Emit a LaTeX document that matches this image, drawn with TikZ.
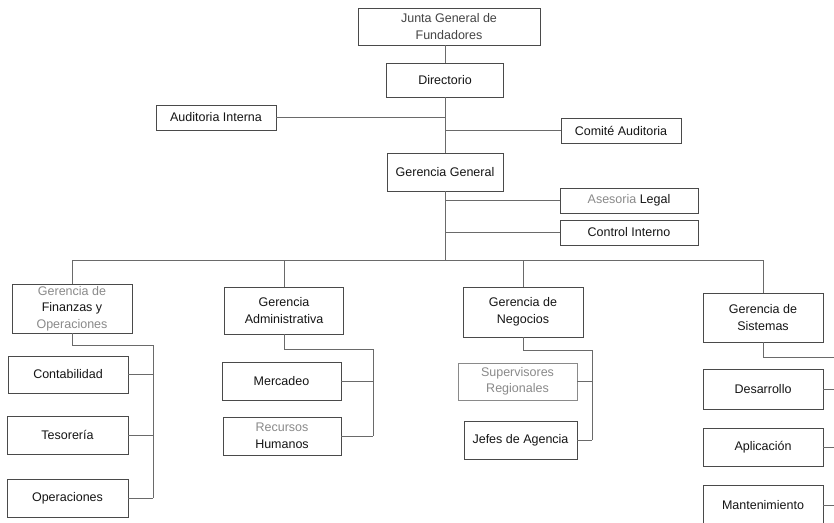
\documentclass[tikz,border=0pt]{standalone}
\usepackage{fontspec}
\setmainfont{Liberation Sans}
\definecolor{edge}{HTML}{6A6A6A}
\definecolor{frame}{HTML}{4A4A4A}
\definecolor{soft}{HTML}{8A8A8A}
\definecolor{ink}{HTML}{151515}
\begin{document}
\begin{tikzpicture}[x=1pt,y=-1pt,
  unit/.style={draw=frame, line width=0.9pt, fill=white, rectangle,
    inner sep=0pt, align=center, text=ink,
    font=\fontsize{12.5}{16.5}\selectfont},
  link/.style={draw=edge, line width=0.8pt}]
\clip (0,0) rectangle (834,522);
\fill[white] (0,0) rectangle (834,522);

% top of the chart
\node[unit, minimum width=182, minimum height=37] (junta) at (449,26.5)
  {\color{ink!80}Junta General de\\\color{ink!80}Fundadores};
\node[unit, minimum width=117, minimum height=34] (dir) at (445,80) {Directorio};
\node[unit, minimum width=120, minimum height=25] (audint) at (216,117.5) {Auditoria Interna};
\node[unit, minimum width=120, minimum height=25] (comite) at (621,130.5) {Comité Auditoria};
\node[unit, minimum width=116, minimum height=38] (gg) at (445,172) {Gerencia General};
\node[unit, minimum width=138, minimum height=25] (ases) at (629,200.5)
  {\color{soft}Asesoria \color{ink}Legal};
\node[unit, minimum width=138, minimum height=25] (ctrl) at (629,232.5) {Control Interno};

% second level
\node[unit, minimum width=120, minimum height=49] (fin) at (72,308.5)
  {\color{soft}Gerencia de\\\color{ink}Finanzas y\\\color{soft}Operaciones};
\node[unit, minimum width=119, minimum height=47] (adm) at (284,310.5)
  {Gerencia\\Administrativa};
\node[unit, minimum width=120, minimum height=50] (neg) at (523,312)
  {Gerencia de\\Negocios};
\node[unit, minimum width=120, minimum height=49] (sis) at (763,317.5)
  {Gerencia de\\Sistemas};

% third level
\node[unit, minimum width=120, minimum height=37] (cont) at (68,374.5) {Contabilidad};
\node[unit, minimum width=121, minimum height=38] (teso) at (67.5,435) {Tesorería};
\node[unit, minimum width=121, minimum height=38] (oper) at (67.5,498) {Operaciones};
\node[unit, minimum width=119, minimum height=38] (merc) at (281.5,381) {Mercadeo};
\node[unit, minimum width=118, minimum height=38] (rrhh) at (282,436)
  {\color{soft}Recursos\\\color{ink}Humanos};
\node[unit, draw=soft, minimum width=119, minimum height=37] (sup) at (517.5,381.5)
  {\color{soft}Supervisores\\\color{soft}Regionales};
\node[unit, minimum width=113, minimum height=38] (jefes) at (520.5,440) {Jefes de Agencia};
\node[unit, minimum width=120, minimum height=40] (des) at (763,389) {Desarrollo};
\node[unit, minimum width=120, minimum height=38] (apl) at (763,447) {Aplicación};
\node[unit, minimum width=120, minimum height=40] (mant) at (763,505) {Mantenimiento};

% level of the distribution bus
\coordinate (busL) at (72,260);

% corners of the sub-branch spines
\coordinate (finB) at (153,345);
\coordinate (admB) at (373,349);
\coordinate (negB) at (592,350);
\coordinate (sisB) at (850,357);

% main trunk
\draw[link] (junta.south -| dir.north) -- (dir.north);
\draw[link] (dir.south) -- (gg.north);
\draw[link] (audint.east) -- (audint.east -| dir.south);
\draw[link] (comite.west -| dir.south) -- (comite.west);
\draw[link] (gg.south) -- (gg.south |- busL);
\draw[link] (ases.west -| gg.south) -- (ases.west);
\draw[link] (ctrl.west -| gg.south) -- (ctrl.west);

% distribution bus and drops
\draw[link] (fin.north |- busL) -- (sis.north |- busL);
\draw[link] (fin.north |- busL) -- (fin.north);
\draw[link] (adm.north |- busL) -- (adm.north);
\draw[link] (neg.north |- busL) -- (neg.north);
\draw[link] (sis.north |- busL) -- (sis.north);

% finance branch
\draw[link] (fin.south) -- (fin.south |- finB) -- (finB) -- (finB |- oper.east);
\draw[link] (cont.east) -- (cont.east -| finB);
\draw[link] (teso.east) -- (teso.east -| finB);
\draw[link] (oper.east) -- (oper.east -| finB);

% administration branch
\draw[link] (adm.south) -- (adm.south |- admB) -- (admB) -- (admB |- rrhh.east);
\draw[link] (merc.east) -- (merc.east -| admB);
\draw[link] (rrhh.east) -- (rrhh.east -| admB);

% business branch
\draw[link] (neg.south) -- (neg.south |- negB) -- (negB) -- (negB |- jefes.east);
\draw[link] (sup.east) -- (sup.east -| negB);
\draw[link] (jefes.east) -- (jefes.east -| negB);

% systems branch
\draw[link] (sis.south) -- (sis.south |- sisB) -- (sisB);
\draw[link] (des.east) -- (des.east -| sisB);
\draw[link] (apl.east) -- (apl.east -| sisB);
\draw[link] (mant.east) -- (mant.east -| sisB);
\end{tikzpicture}
\end{document}
